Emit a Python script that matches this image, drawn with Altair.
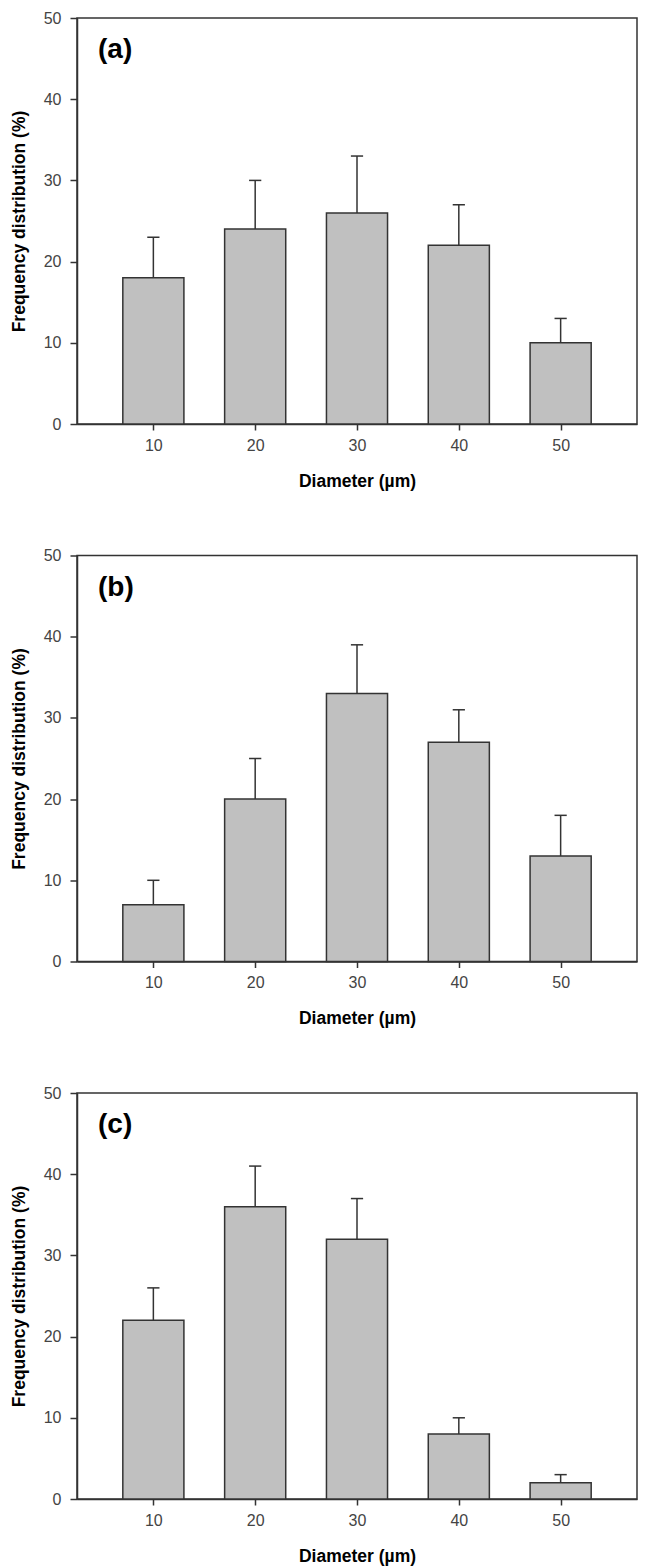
import altair as alt
import pandas as pd

# Data
diameters = [10, 20, 30, 40, 50]
panel_labels = ["(a)", "(b)", "(c)"]
freq_a = [18, 24, 26, 22, 10]
err_a = [5, 6, 7, 5, 3]
freq_b = [7, 20, 33, 27, 13]
err_b = [3, 5, 6, 4, 5]
freq_c = [22, 36, 32, 8, 2]
err_c = [4, 5, 5, 2, 1]
y_ticks = [0, 10, 20, 30, 40, 50]

LINE = "#333333"
FONT = "Liberation Sans"


def panel(freq, err, label):
    df = pd.DataFrame({"diameter": diameters, "freq": freq, "err": err})
    df["upper"] = df["freq"] + df["err"]
    base = alt.Chart(df).transform_calculate(
        x0="datum.diameter - 3",
        x1="datum.diameter + 3",
        c0="datum.diameter - 0.6",
        c1="datum.diameter + 0.6",
    )
    xscale = alt.Scale(domain=[2.5, 57.5], nice=False, zero=False)
    yscale = alt.Scale(domain=[0, 50], nice=False)
    bars = base.mark_bar(fill="#c0c0c0", stroke=LINE, strokeWidth=1.5).encode(
        x=alt.X("x0:Q", scale=xscale,
                axis=alt.Axis(values=diameters, title="Diameter (µm)")),
        x2="x1:Q",
        y=alt.Y("freq:Q", scale=yscale,
                axis=alt.Axis(values=y_ticks, title="Frequency distribution (%)")),
        y2=alt.datum(0),
    )
    stem = base.mark_rule(color=LINE, strokeWidth=1.5).encode(
        x=alt.X("diameter:Q", scale=xscale),
        y=alt.Y("freq:Q", scale=yscale),
        y2="upper:Q",
    )
    cap = base.mark_rule(color=LINE, strokeWidth=1.5).encode(
        x=alt.X("c0:Q", scale=xscale),
        x2="c1:Q",
        y=alt.Y("upper:Q", scale=yscale),
    )
    txt = alt.Chart(pd.DataFrame({"label": [label]})).mark_text(
        font=FONT, fontWeight="bold", fontSize=28, align="left",
        baseline="alphabetic", color="#000000"
    ).encode(x=alt.value(21), y=alt.value(40), text="label:N")
    return alt.layer(bars, stem, cap, txt).properties(width=560, height=406)


charts = [
    panel(freq_a, err_a, panel_labels[0]),
    panel(freq_b, err_b, panel_labels[1]),
    panel(freq_c, err_c, panel_labels[2]),
]

chart = alt.vconcat(*charts, spacing=131.5, bounds="flush").properties(
    padding={"top": 1, "left": 1, "right": 5, "bottom": 5}
).configure_view(
    stroke=LINE, strokeWidth=1.5
).configure_axis(
    grid=False,
    domainColor=LINE, domainWidth=1.5,
    tickColor=LINE, tickWidth=1.5,
    labelFont=FONT, labelFontSize=16, labelColor="#444444",
    titleFont=FONT, titleFontSize=17.5, titleFontWeight="bold", titleColor="#000000",
).configure_axisX(
    tickSize=6, labelPadding=7, titlePadding=19,
).configure_axisY(
    tickSize=7, labelPadding=9, titlePadding=15,
)

chart.save("out.html", embed_options={"renderer": "svg", "actions": False})
